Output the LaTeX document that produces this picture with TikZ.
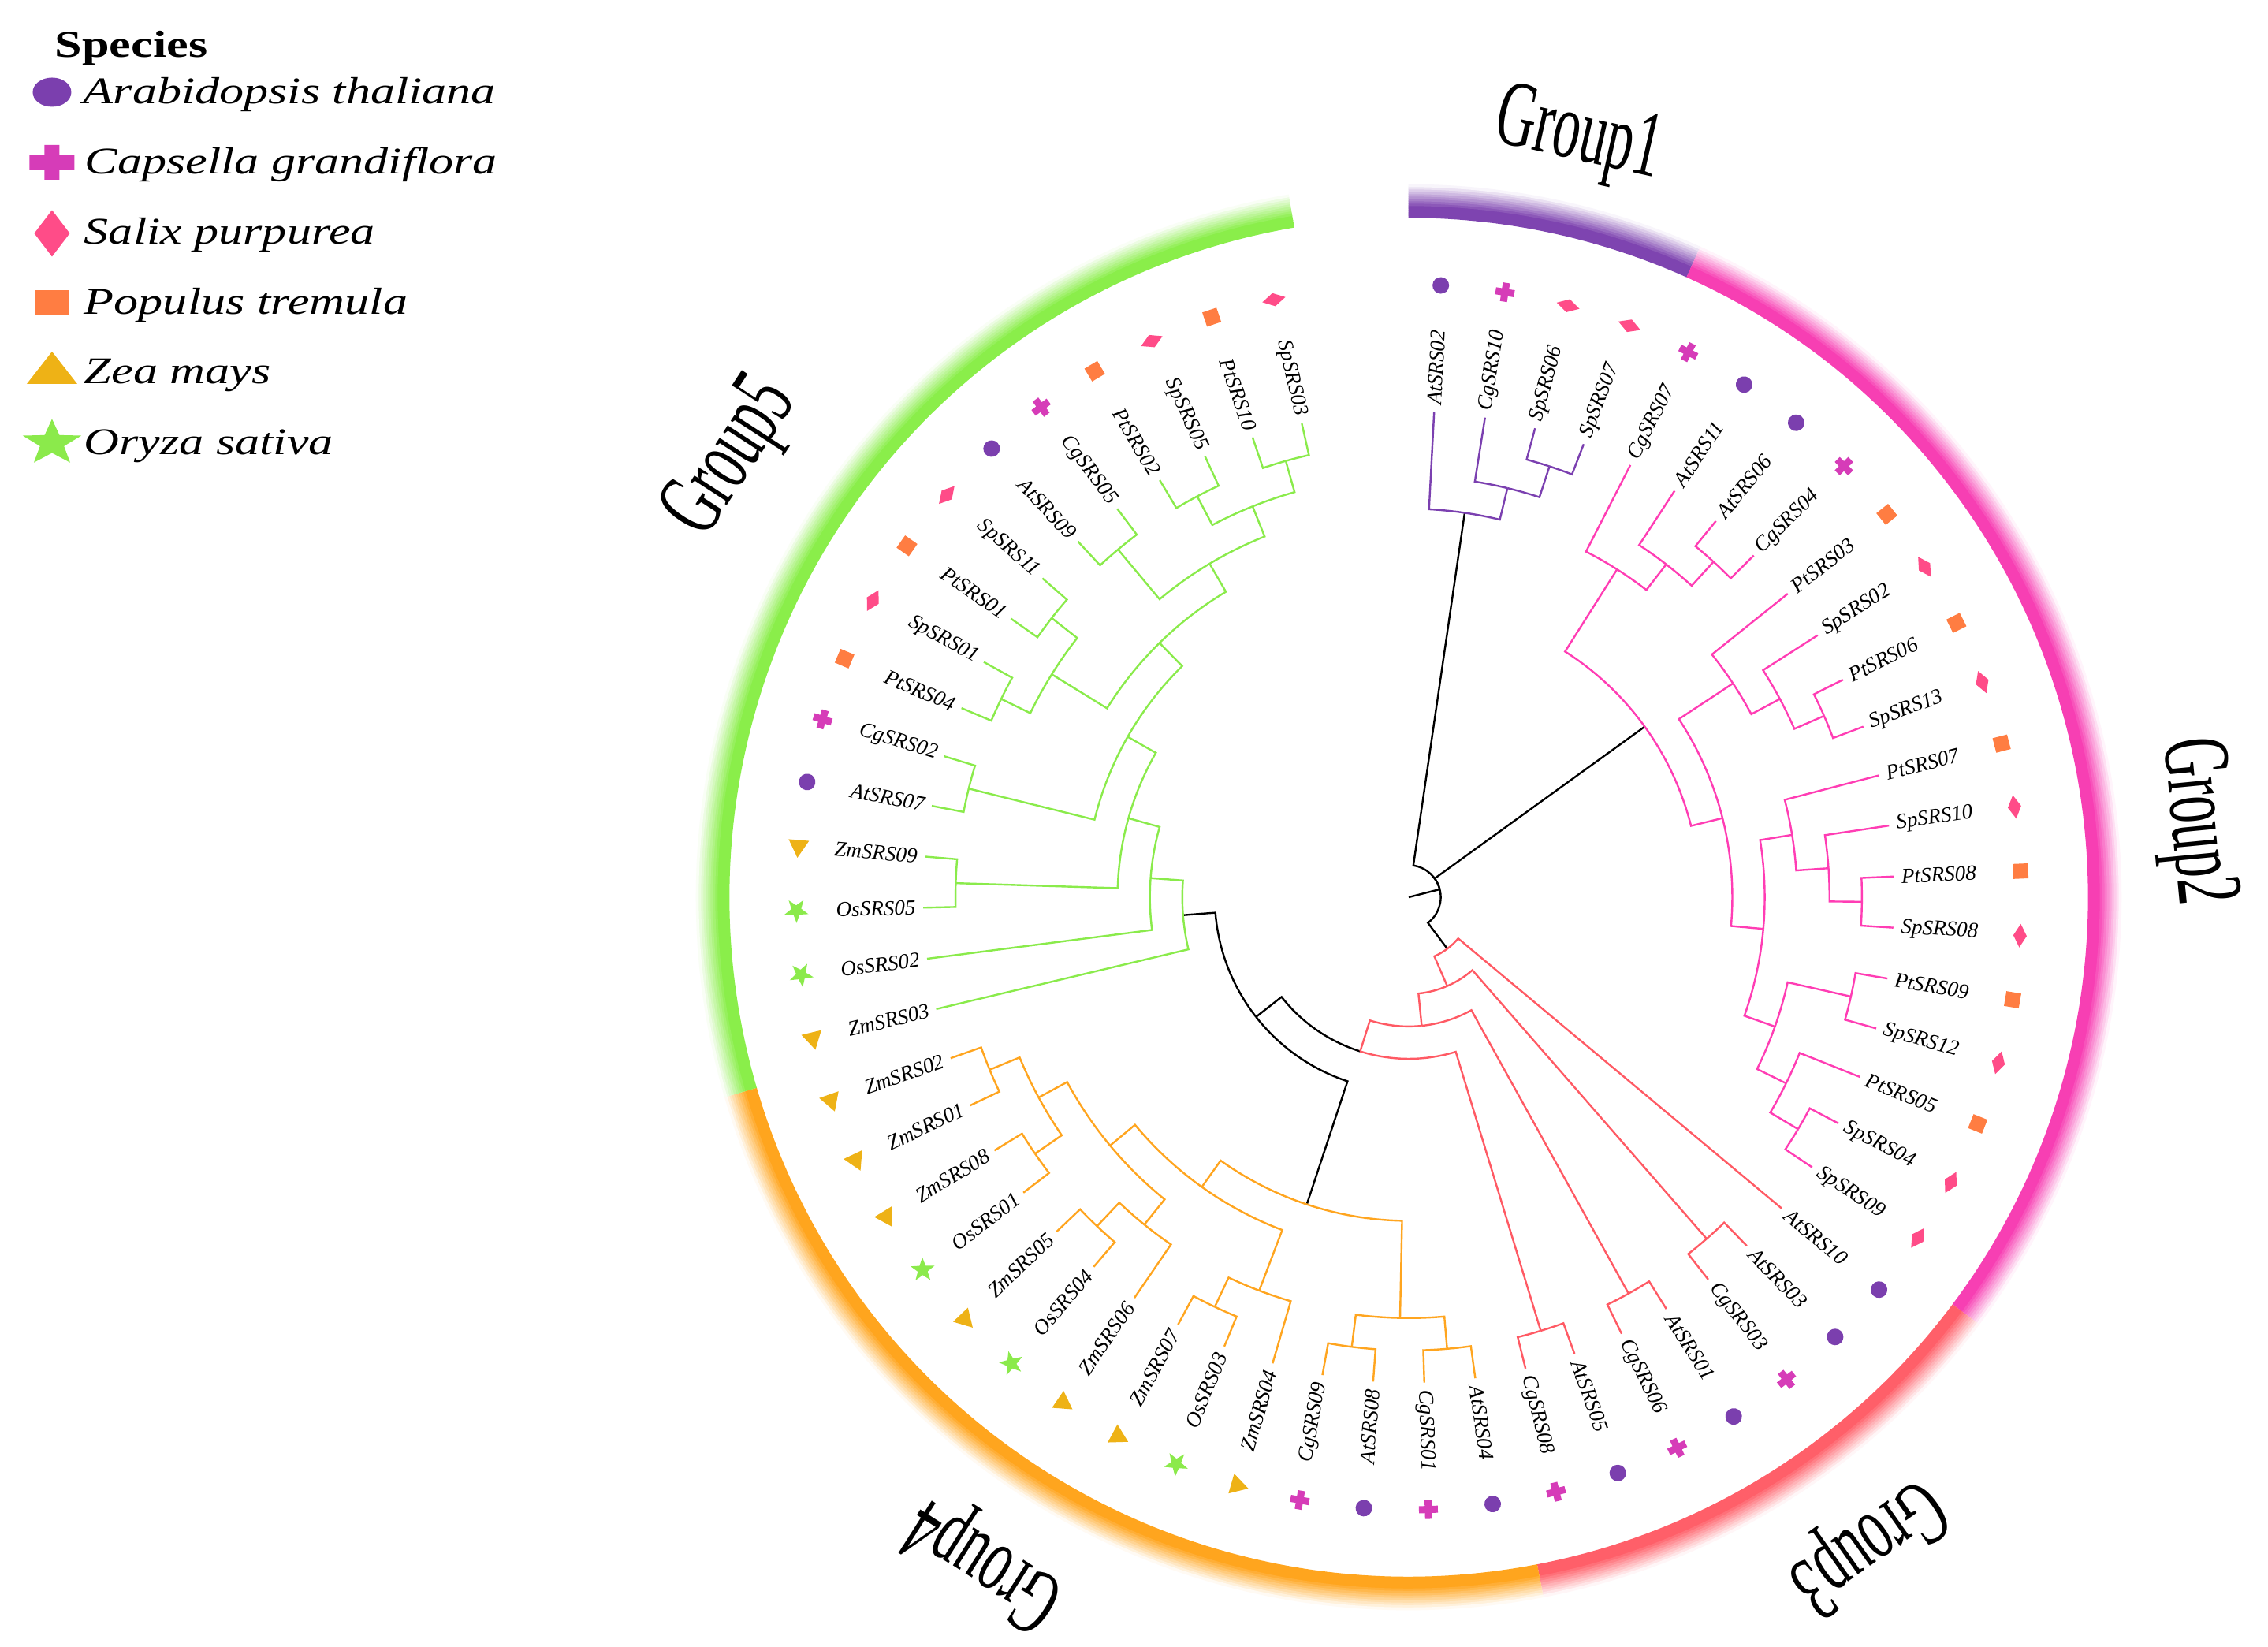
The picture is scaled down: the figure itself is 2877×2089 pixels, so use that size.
\documentclass[tikz,border=0pt]{standalone}
\usepackage{fontspec}
\setmainfont{Liberation Serif}
\usetikzlibrary{calc}
\definecolor{cAt}{HTML}{7B3FAE}
\definecolor{cCg}{HTML}{D63CB8}
\definecolor{cSp}{HTML}{FF4C88}
\definecolor{cPt}{HTML}{FF7D42}
\definecolor{cZm}{HTML}{EEB216}
\definecolor{cOs}{HTML}{8BEA4B}
\definecolor{bOne}{HTML}{7B40B0}
\definecolor{bTwo}{HTML}{FF3DB4}
\definecolor{bThree}{HTML}{FF5A64}
\definecolor{bFour}{HTML}{FFA51F}
\definecolor{bFive}{HTML}{8AEB4B}
\definecolor{rOne}{HTML}{7E44B0}
\definecolor{rTwo}{HTML}{F73FB3}
\definecolor{rThree}{HTML}{FF5F69}
\definecolor{rFour}{HTML}{FFA51E}
\definecolor{rFive}{HTML}{8AEE4A}

\tikzset{
  symAt/.pic={\fill[cAt] (0,0) circle[radius=10.5];},
  symCg/.pic={\fill[cCg] (-12,-4.5) rectangle (12,4.5) (-4.5,-12) rectangle (4.5,12);},
  symSp/.pic={\fill[cSp] (0,15) -- (8.5,0) -- (0,-15) -- (-8.5,0) -- cycle;},
  symPt/.pic={\fill[cPt] (-9.5,-9.5) rectangle (9.5,9.5);},
  symZm/.pic={\fill[cZm] (90:15) -- (210:15) -- (330:15) -- cycle;},
  symOs/.pic={\fill[cOs] (90:16) -- (126:6.5) -- (162:16) -- (198:6.5) -- (234:16) -- (270:6.5) -- (306:16) -- (342:6.5) -- (18:16) -- (54:6.5) -- cycle;},
}

\newcommand{\tedge}[3]{%
  \draw[br,#1] let \p1=(#2), \p2=(#3), \n1={atan2(\y1,\x1)}, \n2={atan2(\y2,\x2)},
    \n3={veclen(\x1,\y1)}, \n4={mod((\n2)-(\n1)+540,360)-180}
    in (#2) arc[start angle=\n1, delta angle=\n4, radius=\n3] -- (#3);}

\newcommand{\leaf}[3]{%
  \coordinate (#1) at (#2:616);
  \pgfmathsetmacro{\leafcos}{cos(#2)}%
  \ifdim\leafcos pt>0pt
    \node[lbl, rotate=#2, anchor=west] (t#1) at (#2:625) {#1};
  \else
    \pgfmathsetmacro{\leafrot}{#2+180}%
    \node[lbl, rotate=\leafrot, anchor=east] (t#1) at (#2:625) {#1};
  \fi
  \pic[rotate=#2] at (#2:777) {#3};
}

\newcommand{\ringseg}[3]{%
  \foreach \kk in {0,...,13}{%
    \pgfmathsetmacro{\ringr}{863.5+3*\kk}%
    \pgfmathsetmacro{\ringp}{\kk<5 ? 100 : 100-(\kk-4)*10.5}%
    \draw[line width=0.36mm, color=#1!\ringp!white] (#2:\ringr) arc[start angle=#2, end angle=#3, radius=\ringr];
  }}

\begin{document}
\begin{tikzpicture}[x=0.1mm, y=0.1mm,
  br/.style={line width=0.24mm},
  lbl/.style={font=\fontsize{7.7}{9}\selectfont\itshape, inner sep=0pt},
  grp/.style={font=\fontsize{34}{40}\selectfont, inner sep=0pt},
  leg/.style={font=\fontsize{13.6}{16}\selectfont\itshape, inner sep=0pt, anchor=base west, xscale=1.3}]
\useasboundingbox (-1787,1138) rectangle (1090,-951);
\fill[white] (-1787,1138) rectangle (1090,-951);

% ---------- legend ----------
\node[leg, font=\fontsize{13.6}{16}\selectfont\bfseries] (lspec) at (-1718,1065) {Species};
\fill[cAt] (-1721,1021) ellipse[x radius=24.5, y radius=18.5];
\node[leg] (lat) at (-1682,1006) {Arabidopsis thaliana};
\fill[cCg] (-1749.5,923) rectangle (-1692.5,941) (-1730.5,910) rectangle (-1711.5,954);
\node[leg] (lcg) at (-1680,917) {Capsella grandiflora};
\fill[cSp] (-1721,871.5) -- (-1698.5,842) -- (-1721,812.5) -- (-1743.5,842) -- cycle;
\node[leg] (lsp) at (-1681,828) {Salix purpurea};
\fill[cPt] (-1743,738) rectangle (-1699,770);
\node[leg] (lpt) at (-1681,739) {Populus tremula};
\fill[cZm] (-1753,651) -- (-1689,651) -- (-1721,692) -- cycle;
\node[leg] (lzm) at (-1681,651) {Zea mays};
\fill[cOs, shift={(-1721,576)}, xscale=1.28] (90:30.6) -- (126:12.5) -- (162:30.6) -- (198:12.5) -- (234:30.6) -- (270:12.5) -- (306:30.6) -- (342:12.5) -- (18:30.6) -- (54:12.5) -- cycle;
\node[leg] (los) at (-1681,561) {Oryza sativa};

% ---------- rings ----------
\ringseg{rOne}{90.02}{65.86}
\ringseg{rTwo}{65.86}{-36.82}
\ringseg{rThree}{-36.82}{-79.1}
\ringseg{rFour}{-79.1}{-163.7}
\ringseg{rFive}{-163.7}{-260.3}

% ---------- group labels ----------
\node[grp, rotate=-12.6, xscale=0.58] (grp1) at (77.4:986) {Group1};
\node[grp, rotate=-84.5, xscale=0.58] (grp2) at (5.5:1000) {Group2};
\node[grp, rotate=-144.7, xscale=0.58] (grp3) at (-54.7:1003) {Group3};
\node[grp, rotate=-212.5, xscale=0.58] (grp4) at (-122.5:998) {Group4};
\node[grp, rotate=57, xscale=0.58] (grp5) at (147:1022) {Group5};

% ---------- leaves ----------
\leaf{AtSRS02}{87.00}{symAt}
\leaf{CgSRS10}{80.96}{symCg}
\leaf{SpSRS06}{74.92}{symSp}
\leaf{SpSRS07}{68.88}{symSp}
\leaf{CgSRS07}{62.84}{symCg}
\leaf{AtSRS11}{56.80}{symAt}
\leaf{AtSRS06}{50.76}{symAt}
\leaf{CgSRS04}{44.72}{symCg}
\leaf{PtSRS03}{38.68}{symPt}
\leaf{SpSRS02}{32.64}{symSp}
\leaf{PtSRS06}{26.60}{symPt}
\leaf{SpSRS13}{20.56}{symSp}
\leaf{PtSRS07}{14.52}{symPt}
\leaf{SpSRS10}{8.48}{symSp}
\leaf{PtSRS08}{2.44}{symPt}
\leaf{SpSRS08}{-3.60}{symSp}
\leaf{PtSRS09}{-9.64}{symPt}
\leaf{SpSRS12}{-15.68}{symSp}
\leaf{PtSRS05}{-21.72}{symPt}
\leaf{SpSRS04}{-27.76}{symSp}
\leaf{SpSRS09}{-33.80}{symSp}
\leaf{AtSRS10}{-39.84}{symAt}
\leaf{AtSRS03}{-45.88}{symAt}
\leaf{CgSRS03}{-51.92}{symCg}
\leaf{AtSRS01}{-57.96}{symAt}
\leaf{CgSRS06}{-64.00}{symCg}
\leaf{AtSRS05}{-70.04}{symAt}
\leaf{CgSRS08}{-76.08}{symCg}
\leaf{AtSRS04}{-82.12}{symAt}
\leaf{CgSRS01}{-88.16}{symCg}
\leaf{AtSRS08}{-94.20}{symAt}
\leaf{CgSRS09}{-100.24}{symCg}
\leaf{ZmSRS04}{-106.28}{symZm}
\leaf{OsSRS03}{-112.32}{symOs}
\leaf{ZmSRS07}{-118.36}{symZm}
\leaf{ZmSRS06}{-124.40}{symZm}
\leaf{OsSRS04}{-130.44}{symOs}
\leaf{ZmSRS05}{-136.48}{symZm}
\leaf{OsSRS01}{-142.52}{symOs}
\leaf{ZmSRS08}{-148.56}{symZm}
\leaf{ZmSRS01}{-154.60}{symZm}
\leaf{ZmSRS02}{-160.64}{symZm}
\leaf{ZmSRS03}{-166.68}{symZm}
\leaf{OsSRS02}{-172.72}{symOs}
\leaf{OsSRS05}{-178.76}{symOs}
\leaf{ZmSRS09}{-184.80}{symZm}
\leaf{AtSRS07}{-190.84}{symAt}
\leaf{CgSRS02}{-196.88}{symCg}
\leaf{PtSRS04}{-202.92}{symPt}
\leaf{SpSRS01}{-208.96}{symSp}
\leaf{PtSRS01}{-215.00}{symPt}
\leaf{SpSRS11}{-221.04}{symSp}
\leaf{AtSRS09}{-227.08}{symAt}
\leaf{CgSRS05}{-233.12}{symCg}
\leaf{PtSRS02}{-239.16}{symPt}
\leaf{SpSRS05}{-245.20}{symSp}
\leaf{PtSRS10}{-251.24}{symPt}
\leaf{SpSRS03}{-257.28}{symSp}

% ---------- internal nodes ----------
\coordinate (ctr) at (0,0);
\coordinate (root) at (14.2575:40.6);
\coordinate (g1a) at (71.90:574.9);
\coordinate (g1b) at (76.43:533.8);
\coordinate (g1) at (81.715:492.7);
\coordinate (g2b1) at (47.74:574.9);
\coordinate (g2b) at (52.27:533.8);
\coordinate (g2a) at (57.555:492.7);
\coordinate (g2e1) at (23.58:574.9);
\coordinate (g2e) at (28.11:533.8);
\coordinate (g2d) at (33.395:492.7);
\coordinate (g2h1) at (-0.58:574.9);
\coordinate (g2h) at (3.95:533.8);
\coordinate (g2g) at (9.235:492.7);
\coordinate (g2i1) at (-12.66:574.9);
\coordinate (g2j1) at (-30.78:574.9);
\coordinate (g2j) at (-26.25:533.8);
\coordinate (g2i) at (-19.455:492.7);
\coordinate (g2f) at (-5.11:451.6);
\coordinate (g2c) at (14.1425:410.5);
\coordinate (g2) at (35.85:369.4);
\coordinate (x31) at (-48.9:574.9);
\coordinate (x32) at (-60.98:574.9);
\coordinate (x33) at (-73.06:574.9);
\coordinate (X1) at (-53.2:81.7);
\coordinate (X2) at (-66.566:122.8);
\coordinate (X3) at (-84.23:163.9);
\coordinate (P) at (-107.483:205.0);
\coordinate (A) at (-141.9065:246.1);
\coordinate (g4p1) at (-85.14:574.9);
\coordinate (g4p2) at (-97.22:574.9);
\coordinate (g4R) at (-91.18:533.8);
\coordinate (g4p3) at (-115.34:574.9);
\coordinate (g4m) at (-110.81:533.8);
\coordinate (g4p4) at (-133.46:574.9);
\coordinate (g4n) at (-128.93:533.8);
\coordinate (g4p5) at (-145.54:574.9);
\coordinate (g4p6) at (-157.62:574.9);
\coordinate (g4o) at (-151.58:533.8);
\coordinate (g4k) at (-140.255:492.7);
\coordinate (g4L) at (-125.5325:451.6);
\coordinate (g4) at (-108.356:410.5);
\coordinate (g5p1) at (-181.78:574.9);
\coordinate (g5p2) at (-193.86:574.9);
\coordinate (g5p3) at (-205.94:574.9);
\coordinate (g5p4) at (-218.02:574.9);
\coordinate (g5q) at (-211.98:533.8);
\coordinate (g5p5) at (-230.10:574.9);
\coordinate (g5p6) at (-242.18:574.9);
\coordinate (g5p7) at (-254.26:574.9);
\coordinate (g5r) at (-248.22:533.8);
\coordinate (g5s) at (-239.16:492.7);
\coordinate (g5t) at (-225.57:451.6);
\coordinate (g5u) at (-209.715:410.5);
\coordinate (g5v) at (-195.7475:369.4);
\coordinate (g5w) at (-184.234:328.3);
\coordinate (g5) at (-175.457:287.2);

% ---------- branches ----------
\draw[br] (ctr) -- (root);
\tedge{black}{root}{g1}
\tedge{black}{root}{g2}
\tedge{black}{root}{X1}
\tedge{black}{P}{A}
\tedge{black}{A}{g5}
\tedge{black}{A}{g4}
% group 1
\tedge{bOne}{g1}{AtSRS02}
\tedge{bOne}{g1}{g1b}
\tedge{bOne}{g1b}{CgSRS10}
\tedge{bOne}{g1b}{g1a}
\tedge{bOne}{g1a}{SpSRS06}
\tedge{bOne}{g1a}{SpSRS07}
% group 2
\tedge{bTwo}{g2}{g2a}
\tedge{bTwo}{g2}{g2c}
\tedge{bTwo}{g2a}{CgSRS07}
\tedge{bTwo}{g2a}{g2b}
\tedge{bTwo}{g2b}{AtSRS11}
\tedge{bTwo}{g2b}{g2b1}
\tedge{bTwo}{g2b1}{AtSRS06}
\tedge{bTwo}{g2b1}{CgSRS04}
\tedge{bTwo}{g2c}{g2d}
\tedge{bTwo}{g2c}{g2f}
\tedge{bTwo}{g2d}{PtSRS03}
\tedge{bTwo}{g2d}{g2e}
\tedge{bTwo}{g2e}{SpSRS02}
\tedge{bTwo}{g2e}{g2e1}
\tedge{bTwo}{g2e1}{PtSRS06}
\tedge{bTwo}{g2e1}{SpSRS13}
\tedge{bTwo}{g2f}{g2g}
\tedge{bTwo}{g2f}{g2i}
\tedge{bTwo}{g2g}{PtSRS07}
\tedge{bTwo}{g2g}{g2h}
\tedge{bTwo}{g2h}{SpSRS10}
\tedge{bTwo}{g2h}{g2h1}
\tedge{bTwo}{g2h1}{PtSRS08}
\tedge{bTwo}{g2h1}{SpSRS08}
\tedge{bTwo}{g2i}{g2i1}
\tedge{bTwo}{g2i}{g2j}
\tedge{bTwo}{g2i1}{PtSRS09}
\tedge{bTwo}{g2i1}{SpSRS12}
\tedge{bTwo}{g2j}{PtSRS05}
\tedge{bTwo}{g2j}{g2j1}
\tedge{bTwo}{g2j1}{SpSRS04}
\tedge{bTwo}{g2j1}{SpSRS09}
% group 3
\tedge{bThree}{X1}{X2}
\tedge{bThree}{X1}{AtSRS10}
\tedge{bThree}{X2}{X3}
\tedge{bThree}{X2}{x31}
\tedge{bThree}{x31}{AtSRS03}
\tedge{bThree}{x31}{CgSRS03}
\tedge{bThree}{X3}{P}
\tedge{bThree}{X3}{x32}
\tedge{bThree}{x32}{AtSRS01}
\tedge{bThree}{x32}{CgSRS06}
\tedge{bThree}{P}{x33}
\tedge{bThree}{x33}{AtSRS05}
\tedge{bThree}{x33}{CgSRS08}
% group 4
\tedge{bFour}{g4}{g4R}
\tedge{bFour}{g4}{g4L}
\tedge{bFour}{g4R}{g4p1}
\tedge{bFour}{g4R}{g4p2}
\tedge{bFour}{g4p1}{AtSRS04}
\tedge{bFour}{g4p1}{CgSRS01}
\tedge{bFour}{g4p2}{AtSRS08}
\tedge{bFour}{g4p2}{CgSRS09}
\tedge{bFour}{g4L}{g4m}
\tedge{bFour}{g4L}{g4k}
\tedge{bFour}{g4m}{ZmSRS04}
\tedge{bFour}{g4m}{g4p3}
\tedge{bFour}{g4p3}{OsSRS03}
\tedge{bFour}{g4p3}{ZmSRS07}
\tedge{bFour}{g4k}{g4n}
\tedge{bFour}{g4k}{g4o}
\tedge{bFour}{g4n}{ZmSRS06}
\tedge{bFour}{g4n}{g4p4}
\tedge{bFour}{g4p4}{OsSRS04}
\tedge{bFour}{g4p4}{ZmSRS05}
\tedge{bFour}{g4o}{g4p5}
\tedge{bFour}{g4o}{g4p6}
\tedge{bFour}{g4p5}{OsSRS01}
\tedge{bFour}{g4p5}{ZmSRS08}
\tedge{bFour}{g4p6}{ZmSRS01}
\tedge{bFour}{g4p6}{ZmSRS02}
% group 5
\tedge{bFive}{g5}{g5w}
\tedge{bFive}{g5}{ZmSRS03}
\tedge{bFive}{g5w}{g5v}
\tedge{bFive}{g5w}{OsSRS02}
\tedge{bFive}{g5v}{g5p1}
\tedge{bFive}{g5v}{g5u}
\tedge{bFive}{g5p1}{OsSRS05}
\tedge{bFive}{g5p1}{ZmSRS09}
\tedge{bFive}{g5u}{g5p2}
\tedge{bFive}{g5u}{g5t}
\tedge{bFive}{g5p2}{AtSRS07}
\tedge{bFive}{g5p2}{CgSRS02}
\tedge{bFive}{g5t}{g5q}
\tedge{bFive}{g5t}{g5s}
\tedge{bFive}{g5q}{g5p3}
\tedge{bFive}{g5q}{g5p4}
\tedge{bFive}{g5p3}{PtSRS04}
\tedge{bFive}{g5p3}{SpSRS01}
\tedge{bFive}{g5p4}{PtSRS01}
\tedge{bFive}{g5p4}{SpSRS11}
\tedge{bFive}{g5s}{g5p5}
\tedge{bFive}{g5s}{g5r}
\tedge{bFive}{g5p5}{AtSRS09}
\tedge{bFive}{g5p5}{CgSRS05}
\tedge{bFive}{g5r}{g5p6}
\tedge{bFive}{g5r}{g5p7}
\tedge{bFive}{g5p6}{PtSRS02}
\tedge{bFive}{g5p6}{SpSRS05}
\tedge{bFive}{g5p7}{PtSRS10}
\tedge{bFive}{g5p7}{SpSRS03}
\end{tikzpicture}
\end{document}
